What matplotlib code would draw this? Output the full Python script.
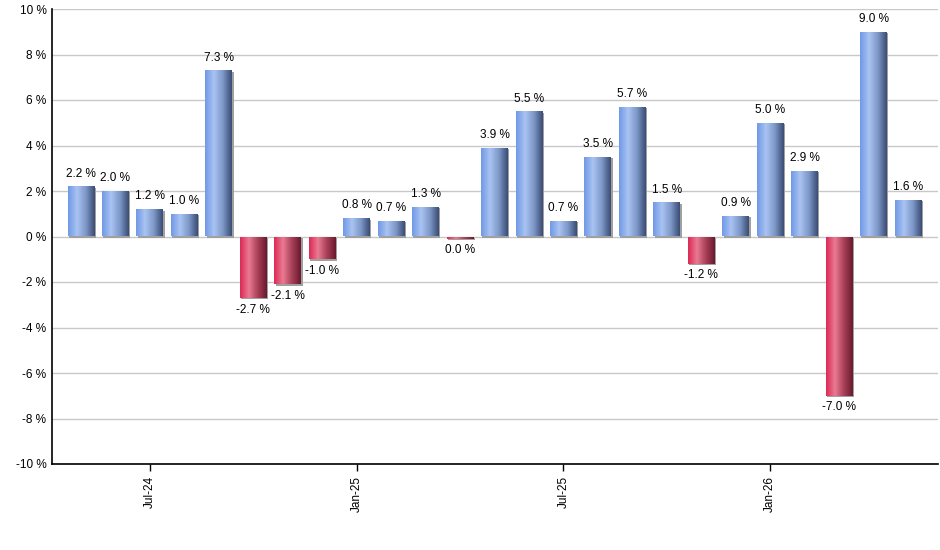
import numpy as np
import matplotlib
matplotlib.use('Agg')
import matplotlib.pyplot as plt
from matplotlib.colors import LinearSegmentedColormap
from matplotlib.patches import Rectangle

plt.rcParams['font.family'] = ['Liberation Sans', 'DejaVu Sans']

months = ['May-24', 'Jun-24', 'Jul-24', 'Aug-24', 'Sep-24', 'Oct-24', 'Nov-24', 'Dec-24',
          'Jan-25', 'Feb-25', 'Mar-25', 'Apr-25', 'May-25', 'Jun-25', 'Jul-25', 'Aug-25',
          'Sep-25', 'Oct-25', 'Nov-25', 'Dec-25', 'Jan-26', 'Feb-26', 'Mar-26', 'Apr-26', 'May-26']
values = [2.2, 2.0, 1.2, 1.0, 7.3, -2.7, -2.1, -1.0,
          0.8, 0.7, 1.3, -0.04, 3.9, 5.5, 0.7, 3.5,
          5.7, 1.5, -1.2, 0.9, 5.0, 2.9, -7.0, 9.0, 1.6]
tick_months = ['Jul-24', 'Jan-25', 'Jul-25', 'Jan-26']
yticks = [-10, -8, -6, -4, -2, 0, 2, 4, 6, 8, 10]

blue = LinearSegmentedColormap.from_list('b', ['#7099e6', '#a9c3f2', '#7d97c8', '#3a4d74'], N=256)
red = LinearSegmentedColormap.from_list('r', ['#dc2a55', '#e97a92', '#a84058', '#6a1a2e'], N=256)
grad = np.linspace(0, 1, 64).reshape(1, -1)

fig = plt.figure(figsize=(9.4, 5.5), dpi=100)
ax = fig.add_axes([52 / 940, 1 - 464 / 550, 886 / 940, 455 / 550])

x = np.arange(len(values))
w = 0.78
for xi, v in zip(x, values):
    x0 = xi - w / 2
    y0, y1 = min(0, v), max(0, v)
    if abs(v) < 0.1:
        y0 = -0.09  # tiny bar still shows as a thin strip
    # shadow
    ax.add_patch(Rectangle((x0 + 0.04, y0 - 0.06), w, y1 - y0, color='#a0a0a0', lw=0, zorder=2))
    rect = Rectangle((x0, y0), w, y1 - y0, fc='none', lw=0, zorder=3)
    ax.add_patch(rect)
    im = ax.imshow(grad, extent=[x0, x0 + w, y0, y1], aspect='auto',
                   cmap=blue if v >= 0 else red, zorder=3, interpolation='bilinear')
    im.set_clip_path(rect)
    lab = f'{v:.1f}'.replace('-0.0', '0.0') + ' %'
    if v >= 0:
        ax.text(xi, v + 0.3, lab, ha='center', va='bottom', fontsize=8.5, zorder=4)
    else:
        ax.text(xi, y0 - 0.25, lab, ha='center', va='top', fontsize=8.5, zorder=4)

ax.set_xlim(-0.84, 24.87)
ax.set_ylim(-10, 10)
ax.set_yticks(yticks)
ax.set_yticklabels([f'{t} %' for t in yticks], fontsize=8.5)
ax.tick_params(axis='y', length=0, pad=4)
ax.set_xticks([months.index(m) for m in tick_months])
ax.set_xticklabels(tick_months, rotation=90, fontsize=8.5)
ax.tick_params(axis='x', length=5, direction='out', width=1)
ax.grid(axis='y', color='#c8c8c8', lw=1, zorder=0)
ax.set_axisbelow(True)
for s in ['top', 'right']:
    ax.spines[s].set_visible(False)
ax.spines['left'].set_linewidth(1.2)
ax.spines['bottom'].set_linewidth(1.2)

fig.savefig('out.png', dpi=100)
